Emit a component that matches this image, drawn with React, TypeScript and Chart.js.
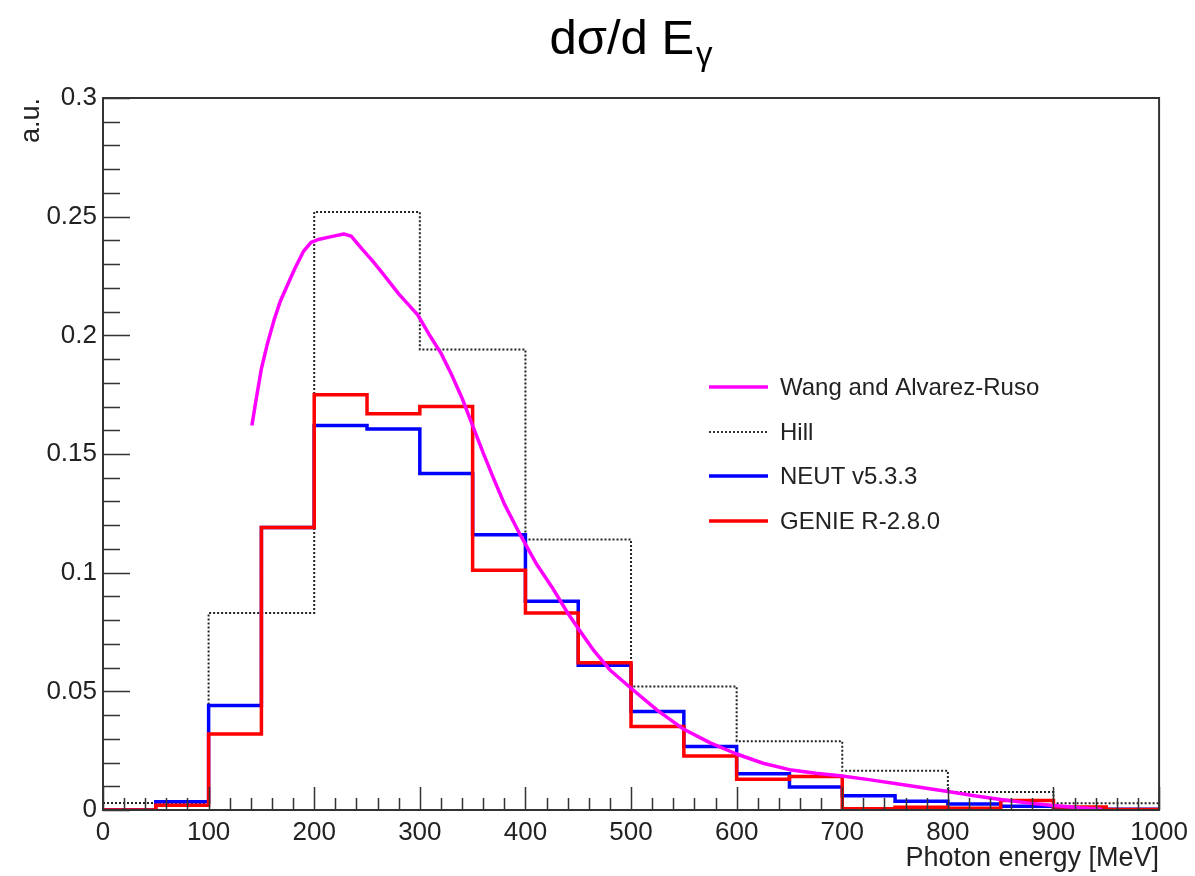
import React, { useEffect, useRef } from "react";
import { Chart, registerables } from "chart.js";

Chart.register(...registerables);

// ---- data ----
const binEdges50 = [0, 50, 100, 150, 200, 250, 300, 350, 400, 450, 500, 550, 600, 650, 700, 750, 800, 850, 900, 950, 1000];
const neutValues = [0.0, 0.0035, 0.044, 0.119, 0.162, 0.1605, 0.1418, 0.116, 0.088, 0.061, 0.0415, 0.0268, 0.0153, 0.0097, 0.006, 0.0037, 0.0025, 0.0016, 0.001, 0.0003];
const genieValues = [0.0, 0.002, 0.032, 0.119, 0.175, 0.167, 0.17, 0.101, 0.083, 0.062, 0.0352, 0.0228, 0.013, 0.0141, 0.0005, 0.0012, 0.0007, 0.004, 0.0013, 0.0002];
const binEdges100 = [0, 100, 200, 300, 400, 500, 600, 700, 800, 900, 1000];
const hillValues = [0.003, 0.083, 0.252, 0.194, 0.114, 0.052, 0.029, 0.0165, 0.0076, 0.0028];
const wangEnergy = [141, 145, 150, 156, 162, 168, 175, 182, 190, 197, 205, 215, 228, 235, 246, 255, 265, 280, 298, 310, 320, 330, 340, 350, 360, 370, 380, 395, 410, 425, 440, 450, 465, 480, 500, 525, 550, 575, 600, 625, 650, 675, 700, 725, 750, 775, 800, 825, 850, 875, 900, 925, 946];
const wangValues = [0.162, 0.173, 0.186, 0.197, 0.2065, 0.2145, 0.2215, 0.2285, 0.2355, 0.2392, 0.2405, 0.2415, 0.2427, 0.2418, 0.236, 0.2315, 0.226, 0.2175, 0.2086, 0.1995, 0.1925, 0.1835, 0.1735, 0.162, 0.1505, 0.1395, 0.129, 0.116, 0.104, 0.094, 0.083, 0.0765, 0.067, 0.059, 0.0513, 0.042, 0.034, 0.0283, 0.0236, 0.0197, 0.017, 0.0155, 0.0143, 0.0128, 0.0112, 0.0095, 0.0078, 0.006, 0.0044, 0.003, 0.0019, 0.0009, 0.0003];

const xTickLabels = ["0", "100", "200", "300", "400", "500", "600", "700", "800", "900", "1000"];
const legendLabels = ["Wang and Alvarez-Ruso", "Hill", "NEUT v5.3.3", "GENIE R-2.8.0"];

const FONT = "'Liberation Sans', Arial, Helvetica, sans-serif";

function histPoints(edges: number[], values: number[]) {
  const pts = values.map((v, i) => ({ x: edges[i], y: v }));
  pts.push({ x: edges[edges.length - 1], y: values[values.length - 1] });
  return pts;
}

const rootPlugin = {
  id: "rootStyle",
  afterDatasetsDraw(chart: any) {
    const { ctx, chartArea } = chart;
    const xs = chart.scales.x;
    const ys = chart.scales.y;
    ctx.save();
    // ticks (inside)
    ctx.strokeStyle = "#333";
    ctx.lineWidth = 1.5;
    ctx.beginPath();
    for (let i = 0; i <= 30; i++) {
      const v = i * 0.01;
      const py = Math.round(ys.getPixelForValue(v)) + 0.5;
      const len = i % 5 === 0 ? 27 : 17;
      ctx.moveTo(chartArea.left, py);
      ctx.lineTo(chartArea.left + len, py);
    }
    for (let i = 0; i <= 50; i++) {
      const v = i * 20;
      const px = Math.round(xs.getPixelForValue(v)) + 0.5;
      const len = i % 5 === 0 ? 23 : 12;
      ctx.moveTo(px, chartArea.bottom);
      ctx.lineTo(px, chartArea.bottom - len);
    }
    ctx.stroke();
    // frame
    ctx.lineWidth = 2;
    ctx.strokeStyle = "#333";
    ctx.strokeRect(chartArea.left, chartArea.top, chartArea.right - chartArea.left, chartArea.bottom - chartArea.top);

    // title
    ctx.fillStyle = "#000";
    ctx.textBaseline = "alphabetic";
    ctx.font = `49px ${FONT}`;
    const main = "dσ/d E";
    const wMain = ctx.measureText(main).width;
    ctx.font = `33px ${FONT}`;
    const wSub = ctx.measureText("γ").width;
    const x0 = 631 - (wMain + wSub + 2) / 2;
    ctx.font = `49px ${FONT}`;
    ctx.textAlign = "left";
    ctx.fillText(main, x0, 54);
    ctx.font = `33px ${FONT}`;
    ctx.fillText("γ", x0 + wMain + 2, 65);

    // legend
    const colors = ["#ff00ff", "#333", "#0000ff", "#ff0000"];
    const rowsY = [387, 432, 476, 521];
    ctx.font = `24px ${FONT}`;
    ctx.textBaseline = "middle";
    legendLabels.forEach((lab, i) => {
      ctx.beginPath();
      ctx.strokeStyle = colors[i];
      ctx.lineWidth = i === 1 ? 2 : 3.5;
      ctx.setLineDash(i === 1 ? [2, 2] : []);
      ctx.moveTo(709, rowsY[i]);
      ctx.lineTo(768, rowsY[i]);
      ctx.stroke();
      ctx.setLineDash([]);
      ctx.fillStyle = "#222";
      ctx.fillText(lab, 780, rowsY[i] + 1);
    });
    ctx.restore();
  },
};

export default function App() {
  const ref = useRef<HTMLCanvasElement>(null);
  useEffect(() => {
    document.body.style.margin = "0";
    const canvas = ref.current!;
    const chart = new Chart(canvas, {
      type: "line",
      data: {
        datasets: [
          {
            label: legendLabels[0],
            data: wangEnergy.map((e, i) => ({ x: e, y: wangValues[i] })),
            borderColor: "#ff00ff",
            borderWidth: 3.5,
            pointRadius: 0,
            tension: 0,
            borderJoinStyle: "round",
            order: 0,
          },
          {
            label: legendLabels[3],
            data: histPoints(binEdges50, genieValues),
            borderColor: "#ff0000",
            borderWidth: 3.5,
            pointRadius: 0,
            stepped: "before",
            order: 1,
          },
          {
            label: legendLabels[2],
            data: histPoints(binEdges50, neutValues),
            borderColor: "#0000ff",
            borderWidth: 3.5,
            pointRadius: 0,
            stepped: "before",
            order: 2,
          },
          {
            label: legendLabels[1],
            data: histPoints(binEdges100, hillValues),
            borderColor: "#222",
            borderWidth: 2,
            borderDash: [2, 2],
            pointRadius: 0,
            stepped: "before",
            order: 3,
          },
        ],
      },
      options: {
        responsive: false,
        animation: false,
        events: [],
        layout: { padding: { top: 98, right: 35, left: 0, bottom: 0 } },
        plugins: { legend: { display: false }, tooltip: { enabled: false }, title: { display: false } },
        scales: {
          x: {
            type: "linear",
            min: 0,
            max: 1000,
            grid: { display: false, drawTicks: false },
            border: { display: false },
            ticks: {
              stepSize: 100,
              padding: 7,
              color: "#222",
              font: { family: FONT, size: 26 },
              maxRotation: 0,
              autoSkip: false,
              callback: (v: any) => {
                const idx = Math.round(Number(v) / 100);
                return xTickLabels[idx] ?? "";
              },
            },
            title: {
              display: true,
              text: "Photon energy [MeV]",
              align: "end",
              color: "#222",
              font: { family: FONT, size: 27 },
              padding: { top: 0, bottom: 1 },
            },
            afterFit: (s: any) => {
              s.height = 66;
            },
          },
          y: {
            type: "linear",
            min: 0,
            max: 0.3,
            grid: { display: false, drawTicks: false },
            border: { display: false },
            ticks: {
              stepSize: 0.05,
              padding: 6,
              color: "#222",
              font: { family: FONT, size: 26 },
              callback: (v: any) => String(Number(Number(v).toFixed(2))),
            },
            title: {
              display: true,
              text: "a.u.",
              align: "end",
              color: "#222",
              font: { family: FONT, size: 27 },
              padding: { top: 15, bottom: 0 },
            },
            afterFit: (s: any) => {
              s.width = 103;
            },
          },
        },
      },
      plugins: [rootPlugin],
    });
    return () => chart.destroy();
  }, []);
  return (
    <div style={{ width: 1195, height: 876 }}>
      <canvas ref={ref} width={1195} height={876} style={{ display: "block" }} />
    </div>
  );
}
